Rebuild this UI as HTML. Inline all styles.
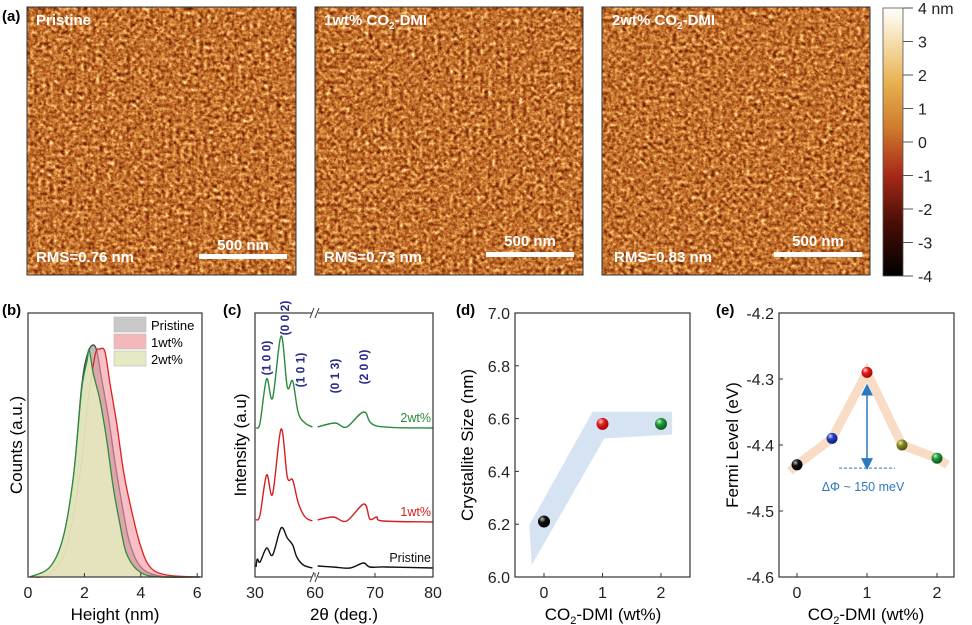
<!DOCTYPE html>
<html><head><meta charset="utf-8"><style>
html,body{margin:0;padding:0;background:#fff;}
svg{display:block;font-family:"Liberation Sans",Arial,sans-serif;}
</style></head><body>
<svg id="fig" width="972" height="625" viewBox="0 0 972 625" xmlns="http://www.w3.org/2000/svg">
<defs>
<filter id="afm1" x="0" y="0" width="100%" height="100%" color-interpolation-filters="sRGB">
<feTurbulence type="fractalNoise" baseFrequency="0.26" numOctaves="3" seed="3" result="n"/>
<feColorMatrix in="n" type="matrix" values="0.55 0.55 0.55 0 -0.33  0.55 0.55 0.55 0 -0.33  0.55 0.55 0.55 0 -0.33  0 0 0 0 1" result="g"/>
<feComponentTransfer in="g">
<feFuncR type="table" tableValues="0.3 0.38 0.5 0.64 0.77 0.88 0.96 1 1"/>
<feFuncG type="table" tableValues="0.08 0.12 0.2 0.3 0.44 0.6 0.76 0.9 1"/>
<feFuncB type="table" tableValues="0 0.02 0.05 0.1 0.18 0.28 0.45 0.7 1"/>
</feComponentTransfer>
</filter>
<filter id="afm2" x="0" y="0" width="100%" height="100%" color-interpolation-filters="sRGB">
<feTurbulence type="fractalNoise" baseFrequency="0.26" numOctaves="3" seed="11" result="n"/>
<feColorMatrix in="n" type="matrix" values="0.55 0.55 0.55 0 -0.33  0.55 0.55 0.55 0 -0.33  0.55 0.55 0.55 0 -0.33  0 0 0 0 1" result="g"/>
<feComponentTransfer in="g">
<feFuncR type="table" tableValues="0.3 0.38 0.5 0.64 0.77 0.88 0.96 1 1"/>
<feFuncG type="table" tableValues="0.08 0.12 0.2 0.3 0.44 0.6 0.76 0.9 1"/>
<feFuncB type="table" tableValues="0 0.02 0.05 0.1 0.18 0.28 0.45 0.7 1"/>
</feComponentTransfer>
</filter>
<filter id="afm3" x="0" y="0" width="100%" height="100%" color-interpolation-filters="sRGB">
<feTurbulence type="fractalNoise" baseFrequency="0.26" numOctaves="3" seed="27" result="n"/>
<feColorMatrix in="n" type="matrix" values="0.55 0.55 0.55 0 -0.33  0.55 0.55 0.55 0 -0.33  0.55 0.55 0.55 0 -0.33  0 0 0 0 1" result="g"/>
<feComponentTransfer in="g">
<feFuncR type="table" tableValues="0.3 0.38 0.5 0.64 0.77 0.88 0.96 1 1"/>
<feFuncG type="table" tableValues="0.08 0.12 0.2 0.3 0.44 0.6 0.76 0.9 1"/>
<feFuncB type="table" tableValues="0 0.02 0.05 0.1 0.18 0.28 0.45 0.7 1"/>
</feComponentTransfer>
</filter>
<linearGradient id="cbar" x1="0" y1="1" x2="0" y2="0">
<stop offset="0" stop-color="#000"/><stop offset="0.2" stop-color="#4a0e06"/>
<stop offset="0.38" stop-color="#a82a18"/><stop offset="0.55" stop-color="#cf7a2e"/>
<stop offset="0.72" stop-color="#e8b050"/><stop offset="0.88" stop-color="#f6e0b0"/>
<stop offset="1" stop-color="#fff"/>
</linearGradient>
<radialGradient id="sk" cx="0.35" cy="0.3" r="0.7"><stop offset="0" stop-color="#bbb"/><stop offset="0.4" stop-color="#111"/><stop offset="1" stop-color="#000"/></radialGradient>
<radialGradient id="sr" cx="0.35" cy="0.3" r="0.7"><stop offset="0" stop-color="#ffd0d0"/><stop offset="0.4" stop-color="#e02020"/><stop offset="1" stop-color="#a00"/></radialGradient>
<radialGradient id="sg" cx="0.35" cy="0.3" r="0.7"><stop offset="0" stop-color="#c8f0c8"/><stop offset="0.4" stop-color="#1e9a3a"/><stop offset="1" stop-color="#0b5a1e"/></radialGradient>
<radialGradient id="sb" cx="0.35" cy="0.3" r="0.7"><stop offset="0" stop-color="#d0d8ff"/><stop offset="0.4" stop-color="#2a40c0"/><stop offset="1" stop-color="#101a80"/></radialGradient>
<radialGradient id="so" cx="0.35" cy="0.3" r="0.7"><stop offset="0" stop-color="#f0f0c0"/><stop offset="0.4" stop-color="#8a8a20"/><stop offset="1" stop-color="#505010"/></radialGradient>
<marker id="ah" markerWidth="8" markerHeight="8" refX="4" refY="4" orient="auto-start-reverse"><path d="M0,0 L8,4 L0,8 z" fill="#2a78c0"/></marker>
</defs>

<text x="2" y="21" font-size="15" font-weight="bold">(a)</text>
<g>
<rect x="27" y="7" width="269" height="268" fill="#c8792e"/>
<rect x="27" y="7" width="269" height="268" filter="url(#afm1)"/>
<rect x="27" y="7" width="269" height="268" fill="none" stroke="#333" stroke-width="1"/>
<text x="36" y="25" font-size="15" font-weight="bold" fill="#fff">Pristine</text>
<text x="36" y="262" font-size="15" font-weight="bold" fill="#fff">RMS=0.76 nm</text>
<text x="243" y="250" font-size="15" font-weight="bold" fill="#fff" text-anchor="middle">500 nm</text>
<rect x="199" y="254" width="88" height="5" fill="#fff"/>
</g>
<g>
<rect x="315" y="7" width="268" height="268" fill="#c8792e"/>
<rect x="315" y="7" width="268" height="268" filter="url(#afm2)"/>
<rect x="315" y="7" width="268" height="268" fill="none" stroke="#333" stroke-width="1"/>
<text x="324" y="25" font-size="15" font-weight="bold" fill="#fff">1wt% CO<tspan font-size="10" dy="4">2</tspan><tspan dy="-4">-DMI</tspan></text>
<text x="324" y="262" font-size="15" font-weight="bold" fill="#fff">RMS=0.73 nm</text>
<text x="530" y="246" font-size="15" font-weight="bold" fill="#fff" text-anchor="middle">500 nm</text>
<rect x="486" y="252" width="88" height="5" fill="#fff"/>
</g>
<g>
<rect x="602" y="7" width="268" height="268" fill="#c8792e"/>
<rect x="602" y="7" width="268" height="268" filter="url(#afm3)"/>
<rect x="602" y="7" width="268" height="268" fill="none" stroke="#333" stroke-width="1"/>
<text x="612" y="25" font-size="15" font-weight="bold" fill="#fff">2wt% CO<tspan font-size="10" dy="4">2</tspan><tspan dy="-4">-DMI</tspan></text>
<text x="614" y="262" font-size="15" font-weight="bold" fill="#fff">RMS=0.83 nm</text>
<text x="818" y="246" font-size="15" font-weight="bold" fill="#fff" text-anchor="middle">500 nm</text>
<rect x="774" y="252" width="88" height="5" fill="#fff"/>
</g>
<g>
<rect x="883" y="8" width="20" height="268" fill="url(#cbar)" stroke="#555" stroke-width="0.8"/>
<g id="cbticks" stroke="#555" stroke-width="1"></g>
<g id="cblabels" font-size="16" fill="#222"></g>
</g>

<text x="2" y="315" font-size="15" font-weight="bold">(b)</text>
<text x="223" y="315" font-size="15" font-weight="bold">(c)</text>
<text x="456" y="315" font-size="15" font-weight="bold">(d)</text>
<text x="716" y="315" font-size="15" font-weight="bold">(e)</text>

<g id="pb"></g>
<g id="pc"></g>
<g id="pd"></g>
<g id="pe"></g>
</svg>
<script>
const NS="http://www.w3.org/2000/svg";
function el(tag,attrs,parent,text){const e=document.createElementNS(NS,tag);for(const k in attrs)e.setAttribute(k,attrs[k]);if(text!==undefined)e.textContent=text;parent.appendChild(e);return e;}
function smooth(P){let d='M'+P[0][0].toFixed(1)+','+P[0][1].toFixed(1);
 for(let i=0;i<P.length-1;i++){const p0=P[Math.max(0,i-1)],p1=P[i],p2=P[i+1],p3=P[Math.min(P.length-1,i+2)];
  const c1=[p1[0]+(p2[0]-p0[0])/6,p1[1]+(p2[1]-p0[1])/6],c2=[p2[0]-(p3[0]-p1[0])/6,p2[1]-(p3[1]-p1[1])/6];
  d+=' C'+c1[0].toFixed(1)+','+c1[1].toFixed(1)+' '+c2[0].toFixed(1)+','+c2[1].toFixed(1)+' '+p2[0].toFixed(1)+','+p2[1].toFixed(1);}
 return d;}

const cbTicks=[4,3,2,1,0,-1,-2,-3,-4];
const cbLabels=["4 nm","3","2","1","0","-1","-2","-3","-4"];

const hPristineX=[0.07,0.78,1.25,1.61,1.9,2.1,2.3,2.45,2.6,2.85,3.1,3.35,3.6,4.0,4.7,6.1];
const hPristineY=[0,10,40,100,190,222,232,225,200,160,112,70,35,10,1,0];
const h1wtX=[0.07,0.78,1.37,1.84,2.14,2.38,2.55,2.73,2.91,3.15,3.38,3.62,3.97,4.33,4.92,6.1];
const h1wtY=[0,3,30,103,177,222,228,225,193,153,107,73,33,10,2,0];
const h2wtX=[0.07,0.78,1.25,1.61,1.9,2.1,2.17,2.32,2.55,2.79,3.02,3.26,3.5,3.97,4.68,6.1];
const h2wtY=[0,10,40,100,187,217,227,203,177,137,90,53,23,5,0,0];
const bXTicks=[0,2,4,6];

const xPriX=[30.5,31.2,32.6,36,39.1,43.5,46.7,49.5,51.6,55,59.7];
const xPriY=[10,18,15,29,22,49,39,32,20,12,9];
const xPriX2=[60.1,62.8,65.7,68,69.1,71.9,80];
const xPriY2=[11,10,9,14,10,10,9];
const x1X=[30.5,32.6,36,39.1,43.5,46.7,49.5,52.4,55.9,59.7];
const x1Y=[57,62,102,83,148,100,97,74,60,56];
const x1X2=[60.1,62.8,65.1,68.1,69.1,70.3,71.4,80];
const x1Y2=[57,60,56,73,58,60,56,55];
const x2X=[30.5,32.6,36,39.1,43.5,46.7,49.5,52.4,55.9,59.7];
const x2Y=[149,154,198,179,241,190,196,164,154,150];
const x2X2=[60.1,63.1,65.1,68.1,70.3,80];
const x2Y2=[150,154,150,165,151,149];
const cXTicks=[30,60,70,80];

const dX=[0,1,2];
const dY=[6.21,6.58,6.58];
const dBandX=[-0.25,0.83,2.19,2.19,1.03,-0.21];
const dBandY=[6.197,6.626,6.626,6.54,6.525,6.045];
const dYTicks=[6.0,6.2,6.4,6.6,6.8,7.0];
const dXTicks=[0,1,2];

const eX=[0,0.5,1,1.5,2];
const eY=[-4.43,-4.39,-4.29,-4.40,-4.42];
const eYTicks=[-4.6,-4.5,-4.4,-4.3,-4.2];
const eXTicks=[0,1,2];

const cbt=document.getElementById('cbticks'),cbl=document.getElementById('cblabels');
cbTicks.forEach((v,i)=>{const y=276-(v+4)/8*268;
 const t=el('line',{x1:903,x2:913,y1:y,y2:y},cbt);
 
 
 const l=el('text',{x:918,y:y+6},cbl,cbLabels[i]);
 
 
});

function frame(g,x0,y0,x1,y1){const r=el('rect',{x:x0,y:y0,width:x1-x0,height:y1-y0,fill:'none',stroke:'#333','stroke-width':1.2},g);}
function xtick(g,x,y,label){el('line',{x1:x,x2:x,y1:y,y2:y-4,stroke:'#333'},g);const t=el('text',{x:x,y:y+21,'font-size':16,'text-anchor':'middle',fill:'#222'},g,label);}

(function(){const g=document.getElementById('pb');
 const X0=28,X1=202,Y0=313,Y1=577;
 const sx=v=>X0+v*28.2, sy=v=>Y1-v;
 function area(xs,ys,fill,stroke,name){const P=xs.map((x,i)=>[sx(x),sy(ys[i])]);const l=smooth(P);
  const a=el('path',{d:l+' L'+sx(xs[xs.length-1])+','+Y1+' L'+sx(xs[0])+','+Y1+'Z',fill:fill},g);
  const p=el('path',{d:l,fill:'none',stroke:stroke,'stroke-width':1.3},g);}
 area(hPristineX,hPristineY,'#bdbdbd','#444','hist-pristine');
 area(h1wtX,h1wtY,'rgba(240,150,160,0.6)','#e02020','hist-1wt');
 area(h2wtX,h2wtY,'rgba(228,232,190,0.92)','#2e8b3e','hist-2wt');
 frame(g,X0,Y0,X1,Y1);
 bXTicks.forEach(v=>xtick(g,sx(v),Y1,String(v)));
 const xl=el('text',{x:115,y:620,'font-size':17,'text-anchor':'middle'},g,'Height (nm)');
 const yl=el('text',{x:22,y:445,'font-size':17,'text-anchor':'middle',transform:'rotate(-90 22 445)'},g,'Counts (a.u.)');
 const leg=[['Pristine','#c8c8c8'],['1wt%','#f4b8bc'],['2wt%','#e6eac4']];
 leg.forEach((L,i)=>{const gg=el('g',{},g);
  el('rect',{x:114,y:317+i*17,width:32,height:15,fill:L[1],stroke:'#bbb','stroke-width':0.6},gg);
  el('text',{x:151,y:330+i*17,'font-size':13},gg,L[0]);});
})();

(function(){const g=document.getElementById('pc');
 const X0=255,X1=433,Y0=313,Y1=577;
 const sx=v=>v<=60?255+(v-30)*58/30:317+(v-60)*5.8, sy=v=>Y1-v;
 function line(xs,ys,c,name){const p=el('path',{d:smooth(xs.map((x,i)=>[sx(x),sy(ys[i])])),fill:'none',stroke:c,'stroke-width':1.4,'stroke-linejoin':'round'},g);}
 line(xPriX,xPriY,'#111','xrd-pristine-low');line(xPriX2,xPriY2,'#111','xrd-pristine-high');
 line(x1X,x1Y,'#d42020','xrd-1wt-low');line(x1X2,x1Y2,'#d42020','xrd-1wt-high');
 line(x2X,x2Y,'#2a8a3a','xrd-2wt-low');line(x2X2,x2Y2,'#2a8a3a','xrd-2wt-high');
 frame(g,X0,Y0,X1,Y1);
 el('rect',{x:312,y:Y0-4,width:6,height:8,fill:'#fff'},g);el('rect',{x:312,y:Y1-4,width:6,height:8,fill:'#fff'},g);
 ['M310,318 L314,308','M315,318 L319,308','M310,582 L314,572','M315,582 L319,572'].forEach(d=>{const b=el('path',{d:d,stroke:'#333','stroke-width':1},g);});
 cXTicks.forEach(v=>xtick(g,v===60?315:sx(v),Y1,String(v)));
 const lab=[['2wt%',x2Y2[5],'#2a8a3a'],['1wt%',x1Y2[7],'#d42020'],['Pristine',xPriY2[6],'#111']];
 lab.forEach(L=>{const t=el('text',{x:431,y:sy(L[1])-6,'font-size':12.5,'text-anchor':'end',fill:L[2]},g,L[0]);});
 const hkl=[['(1 0 0)',36,378],['(0 0 2)',45.5,338],['(1 0 1)',53.5,390],['(0 1 3)',63.1,396],['(2 0 0)',68.1,387]];
 hkl.forEach(h=>{const x=sx(h[1])+4,y=h[2]-20;const t=el('text',{x:x,y:y,'font-size':12,'font-weight':'bold',fill:'#2a2a8a','text-anchor':'middle',transform:'rotate(-90 '+x+' '+y+')'},g,h[0]);});
 const xl=el('text',{x:344,y:620,'font-size':17,'text-anchor':'middle'},g,'2θ (deg.)');
 const yl=el('text',{x:246,y:445,'font-size':17,'text-anchor':'middle',transform:'rotate(-90 246 445)'},g,'Intensity (a.u)');
})();

(function(){const g=document.getElementById('pd');
 const X0=515,X1=690,Y0=313,Y1=577;
 const sx=v=>544+v*58.5, sy=v=>Y1-(v-6)*264;
 const pts=dBandX.map((x,i)=>sx(x)+','+sy(dBandY[i])).join(' ');
 const b=el('polygon',{points:pts,fill:'#d5e3f3'},g);
 const fills=['url(#sk)','url(#sr)','url(#sg)'];
 dX.forEach((x,i)=>{const c=el('circle',{cx:sx(x),cy:sy(dY[i]),r:6,fill:fills[i]},g);});
 frame(g,X0,Y0,X1,Y1);
 dYTicks.forEach(v=>{const y=sy(v);el('line',{x1:X0,x2:X0+4,y1:y,y2:y,stroke:'#333'},g);const t=el('text',{x:X0-5,y:y+6,'font-size':16,'text-anchor':'end',fill:'#222'},g,v.toFixed(1));});
 dXTicks.forEach(v=>xtick(g,sx(v),Y1,String(v)));
 const xl=el('text',{x:603,y:620,'font-size':17,'text-anchor':'middle'},g);xl.innerHTML='CO<tspan font-size="11" dy="4">2</tspan><tspan dy="-4">-DMI (wt%)</tspan>';
 const yl=el('text',{x:473,y:445,'font-size':17,'text-anchor':'middle',transform:'rotate(-90 473 445)'},g,'Crystallite Size (nm)');
})();

(function(){const g=document.getElementById('pe');
 const X0=779,X1=954,Y0=313,Y1=577;
 const sx=v=>797+v*70, sy=v=>Y1-(v+4.6)*660;
 let d='M'+sx(-0.1)+','+sy(eY[0]-0.01);eX.forEach((x,i)=>d+=' L'+sx(x)+','+sy(eY[i]));d+=' L'+sx(2.15)+','+sy(eY[4]-0.01);
 const band=el('path',{d:d,fill:'none',stroke:'#f9dcc6','stroke-width':9,'stroke-linejoin':'miter'},g);
 const base=eY[0]-0.005;
 const dl=el('line',{x1:sx(0.6),x2:sx(1.4),y1:sy(base),y2:sy(base),stroke:'#2a78c0','stroke-dasharray':'3,2','stroke-width':1},g);
 const ar=el('line',{x1:sx(1),x2:sx(1),y1:sy(base)-4,y2:sy(eY[2]-0.02)+4,stroke:'#2a78c0','stroke-width':1.5,'marker-start':'url(#ah)','marker-end':'url(#ah)'},g);
 const at=el('text',{x:sx(1)-4,y:sy(base)+23,'font-size':12.5,fill:'#2a78c0','text-anchor':'middle'},g,'ΔΦ ~ 150 meV');
 const fills=['url(#sk)','url(#sb)','url(#sr)','url(#so)','url(#sg)'];
 eX.forEach((x,i)=>{const c=el('circle',{cx:sx(x),cy:sy(eY[i]),r:5.5,fill:fills[i]},g);});
 frame(g,X0,Y0,X1,Y1);
 eYTicks.forEach(v=>{const y=sy(v);el('line',{x1:X0,x2:X0+4,y1:y,y2:y,stroke:'#333'},g);const t=el('text',{x:X0-5,y:y+6,'font-size':16,'text-anchor':'end',fill:'#222'},g,v.toFixed(1));});
 eXTicks.forEach(v=>xtick(g,sx(v),Y1,String(v)));
 const xl=el('text',{x:866,y:620,'font-size':17,'text-anchor':'middle'},g);xl.innerHTML='CO<tspan font-size="11" dy="4">2</tspan><tspan dy="-4">-DMI (wt%)</tspan>';
 const yl=el('text',{x:738,y:445,'font-size':17,'text-anchor':'middle',transform:'rotate(-90 738 445)'},g,'Fermi Level (eV)');
})();
</script>
</body></html>
